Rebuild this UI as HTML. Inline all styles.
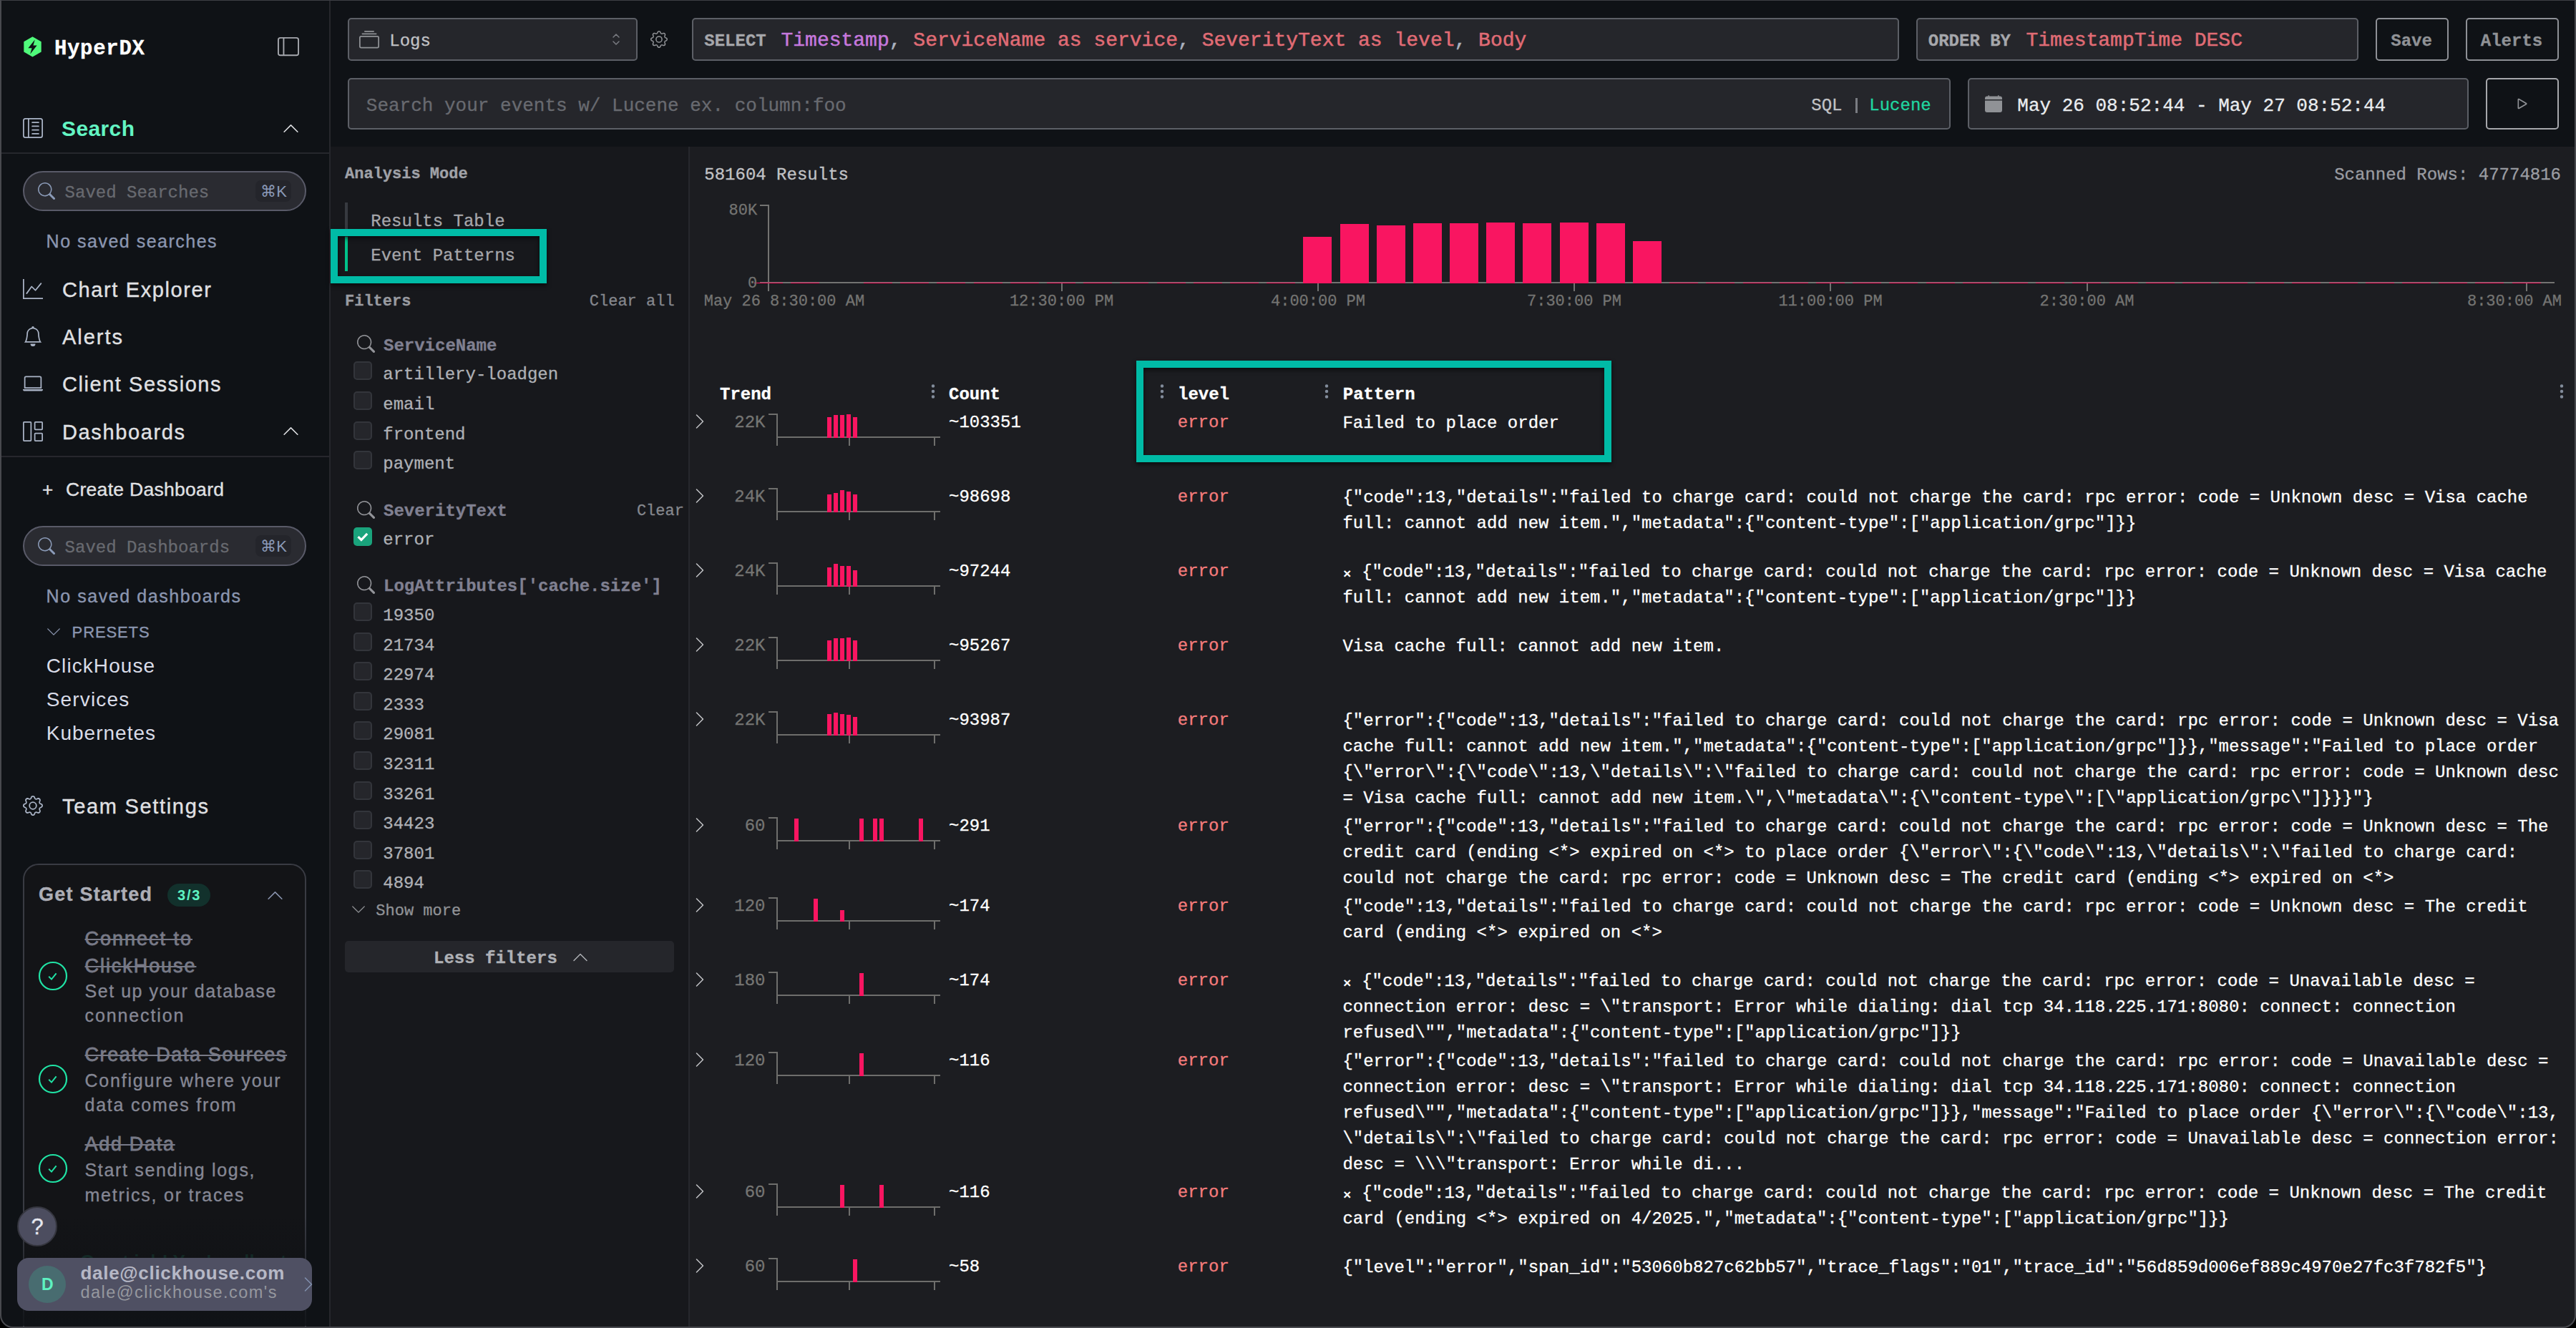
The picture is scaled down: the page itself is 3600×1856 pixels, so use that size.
<!DOCTYPE html>
<html lang="en">
<head>
<meta charset="utf-8">
<title>HyperDX - Search</title>
<style>
html,body{margin:0;padding:0}
body{width:3600px;height:1856px;overflow:hidden;position:relative;background:#1c1d21;font-family:"Liberation Sans",sans-serif;color:#c1c2c5}
.b,.t{position:absolute;box-sizing:border-box;margin:0;padding:0}
.t{white-space:pre}
.m{font-family:"Liberation Mono",monospace;-webkit-text-stroke:0.3px currentColor}
.s{font-family:"Liberation Sans",sans-serif}
.md{-webkit-text-stroke:0.35px currentColor}
.xm{display:inline-block;width:12.4px;font-size:19px;font-weight:bold;line-height:1;position:relative;top:2.6px;left:0.5px;-webkit-text-stroke:0}
.sq{-webkit-text-stroke:0.5px currentColor}
.sb{-webkit-text-stroke:0.8px currentColor}
svg{display:block;overflow:visible}
section,nav,header,main,aside,article{display:block;position:static;margin:0;padding:0}
ul,li,p,h1,h2,h3{margin:0;padding:0;list-style:none;font-weight:inherit;font-size:inherit}
</style>
</head>
<body>
<div class="b" style="left:0.00px;top:0.00px;width:3600.00px;height:205.00px;background:#0f1216;"></div>
<div class="b" style="left:462.00px;top:205.00px;width:500.00px;height:1651.00px;background:#17181c;"></div>
<div class="b" style="left:0.00px;top:0.00px;width:460.00px;height:1856.00px;background:#0f1216;"></div>
<div class="b" style="left:460.00px;top:0.00px;width:2.00px;height:1856.00px;background:#26272c;"></div>
<nav aria-label="Main">
<svg class="b" style="left:33.4px;top:50.6px" width="25" height="28.8" viewBox="0 0 26 30" aria-hidden="true"><polygon points="13,0.3 25.7,7.6 25.7,22.4 13,29.7 0.3,22.4 0.3,7.6" fill="#50fa7b"/><polygon points="16.4,4.6 6.6,17 12,17 9.6,25.4 19.4,13 14,13" fill="#0f1216"/></svg>
<div class="t m" style="top:54.38px;font-size:29px;line-height:29px;color:#ffffff;left:75.90px;font-weight:bold;letter-spacing:0.700px;">HyperDX</div>
<svg class="b" style="left:388.00px;top:50.00px;" width="30" height="30" viewBox="0 0 16 16" fill="#a6a8ae" aria-hidden="true"><path d="M0 3a2 2 0 0 1 2-2h12a2 2 0 0 1 2 2v10a2 2 0 0 1-2 2H2a2 2 0 0 1-2-2V3zm5-1v12h9a1 1 0 0 0 1-1V3a1 1 0 0 0-1-1H5zM4 2H2a1 1 0 0 0-1 1v10a1 1 0 0 0 1 1h2V2z"/></svg>
<svg class="b" style="left:32.00px;top:165.00px;" width="28" height="28" viewBox="0 0 16 16" fill="#aab4c6" aria-hidden="true"><path d="M12.5 3a.5.5 0 0 1 0 1h-5a.5.5 0 0 1 0-1h5zm0 3a.5.5 0 0 1 0 1h-5a.5.5 0 0 1 0-1h5zm.5 3.5a.5.5 0 0 0-.5-.5h-5a.5.5 0 0 0 0 1h5a.5.5 0 0 0 .5-.5zm-.5 2.5a.5.5 0 0 1 0 1h-5a.5.5 0 0 1 0-1h5z"/><path d="M16 2a2 2 0 0 0-2-2H2a2 2 0 0 0-2 2v12a2 2 0 0 0 2 2h12a2 2 0 0 0 2-2V2zM4 1v14H2a1 1 0 0 1-1-1V2a1 1 0 0 1 1-1h2zm1 0h9a1 1 0 0 1 1 1v12a1 1 0 0 1-1 1H5V1z"/></svg>
<div id="f1" class="t s" style="top:164.80px;font-size:30px;line-height:30px;color:#63f5c3;left:86.00px;font-weight:bold;letter-spacing:0.384px;">Search</div>
<svg class="b" style="left:393.50px;top:166.50px;" width="25" height="25" viewBox="0 0 16 16" fill="#e0e1e4" aria-hidden="true"><path fill-rule="evenodd" d="M7.646 4.646a.5.5 0 0 1 .708 0l6 6a.5.5 0 0 1-.708.708L8 5.707l-5.646 5.647a.5.5 0 0 1-.708-.708l6-6z"/></svg>
<div class="b" style="left:2.00px;top:213.00px;width:458.00px;height:2.00px;background:#26272c;"></div>
<div class="b" style="left:32.00px;top:239.00px;width:396.00px;height:56.00px;background:#2a2b31;border:2px solid #595a68;border-radius:28px;"></div>
<svg class="b" style="left:53.00px;top:255.00px;" width="24" height="24" viewBox="0 0 16 16" fill="#8b9bb8" aria-hidden="true"><path d="M11.742 10.344a6.5 6.5 0 1 0-1.397 1.398h-.001c.03.04.062.078.098.115l3.85 3.85a1 1 0 0 0 1.415-1.414l-3.85-3.85a1.007 1.007 0 0 0-.115-.1zM12 6.5a5.5 5.5 0 1 1-11 0 5.5 5.5 0 0 1 11 0z"/></svg>
<div class="t m" style="top:257.61px;font-size:24px;line-height:24px;color:#686a70;left:90.60px;">Saved Searches</div>
<div class="b" style="left:357.00px;top:252.00px;width:50.00px;height:30.00px;background:#24252b;border-radius:8px;"></div>
<div id="f2" class="t s" style="top:257.37px;font-size:22px;line-height:22px;color:#8b9ab8;left:364.00px;letter-spacing:0.312px;">⌘K</div>
<div id="f3" class="t s md" style="top:324.83px;font-size:25px;line-height:25px;color:#8b96b0;left:64.60px;letter-spacing:1.499px;">No saved searches</div>
<svg class="b" style="left:32.00px;top:390.00px;" width="28" height="28" viewBox="0 0 16 16" fill="#aab4c6" aria-hidden="true"><path fill-rule="evenodd" d="M0 0h1v15h15v1H0V0Zm14.817 3.113a.5.5 0 0 1 .07.704l-4.5 5.5a.5.5 0 0 1-.74.037L7.06 6.767l-3.656 5.027a.5.5 0 0 1-.808-.588l4-5.5a.5.5 0 0 1 .758-.06l2.609 2.61 4.15-5.073a.5.5 0 0 1 .704-.07Z"/></svg>
<div id="f4" class="t s md" style="top:391.35px;font-size:29px;line-height:29px;color:#e0e1e4;left:87.00px;letter-spacing:1.618px;">Chart Explorer</div>
<svg class="b" style="left:32.00px;top:456.00px;" width="28" height="28" viewBox="0 0 16 16" fill="#aab4c6" aria-hidden="true"><path d="M8 16a2 2 0 0 0 2-2H6a2 2 0 0 0 2 2zM8 1.918l-.797.161A4.002 4.002 0 0 0 4 6c0 .628-.134 2.197-.459 3.742-.16.767-.376 1.566-.663 2.258h10.244c-.287-.692-.502-1.49-.663-2.258C12.134 8.197 12 6.628 12 6a4.002 4.002 0 0 0-3.203-3.92L8 1.917zM14.22 12c.223.447.481.801.78 1H1c.299-.199.557-.553.78-1C2.68 10.2 3 6.88 3 6c0-2.42 1.72-4.44 4.005-4.901a1 1 0 1 1 1.99 0A5.002 5.002 0 0 1 13 6c0 .88.32 4.2 1.22 6z"/></svg>
<div id="f5" class="t s md" style="top:457.35px;font-size:29px;line-height:29px;color:#e0e1e4;left:87.00px;letter-spacing:1.972px;">Alerts</div>
<svg class="b" style="left:32.00px;top:522.00px;" width="28" height="28" viewBox="0 0 16 16" fill="#aab4c6" aria-hidden="true"><path d="M13.5 3a.5.5 0 0 1 .5.5V11H2V3.5a.5.5 0 0 1 .5-.5h11zm-11-1A1.5 1.5 0 0 0 1 3.5V12h14V3.5A1.5 1.5 0 0 0 13.5 2h-11zM0 12.5h16a1.5 1.5 0 0 1-1.5 1.5h-13A1.5 1.5 0 0 1 0 12.5z"/></svg>
<div id="f6" class="t s md" style="top:523.35px;font-size:29px;line-height:29px;color:#e0e1e4;left:87.00px;letter-spacing:1.545px;">Client Sessions</div>
<svg class="b" style="left:32.00px;top:589.00px;" width="28" height="28" viewBox="0 0 16 16" fill="#aab4c6" aria-hidden="true"><path d="M6 1H1v14h5V1zm9 0h-5v5h5V1zm0 9v5h-5v-5h5zM0 1a1 1 0 0 1 1-1h5a1 1 0 0 1 1 1v14a1 1 0 0 1-1 1H1a1 1 0 0 1-1-1V1zm9 0a1 1 0 0 1 1-1h5a1 1 0 0 1 1 1v5a1 1 0 0 1-1 1h-5a1 1 0 0 1-1-1V1zm1 8a1 1 0 0 0-1 1v5a1 1 0 0 0 1 1h5a1 1 0 0 0 1-1v-5a1 1 0 0 0-1-1h-5z"/></svg>
<div id="f7" class="t s md" style="top:590.35px;font-size:29px;line-height:29px;color:#e0e1e4;left:87.00px;letter-spacing:1.625px;">Dashboards</div>
<svg class="b" style="left:393.50px;top:590.00px;" width="25" height="25" viewBox="0 0 16 16" fill="#e0e1e4" aria-hidden="true"><path fill-rule="evenodd" d="M7.646 4.646a.5.5 0 0 1 .708 0l6 6a.5.5 0 0 1-.708.708L8 5.707l-5.646 5.647a.5.5 0 0 1-.708-.708l6-6z"/></svg>
<div class="b" style="left:2.00px;top:637.00px;width:458.00px;height:2.00px;background:#26272c;"></div>
<div class="t s md" style="top:671.49px;font-size:26px;line-height:26px;color:#e0e1e4;left:59.00px;">+</div>
<div id="f8" class="t s md" style="top:671.36px;font-size:26.5px;line-height:26.5px;color:#e0e1e4;left:92.00px;letter-spacing:0.297px;">Create Dashboard</div>
<div class="b" style="left:32.00px;top:735.00px;width:396.00px;height:56.00px;background:#2a2b31;border:2px solid #595a68;border-radius:28px;"></div>
<svg class="b" style="left:53.00px;top:751.00px;" width="24" height="24" viewBox="0 0 16 16" fill="#8b9bb8" aria-hidden="true"><path d="M11.742 10.344a6.5 6.5 0 1 0-1.397 1.398h-.001c.03.04.062.078.098.115l3.85 3.85a1 1 0 0 0 1.415-1.414l-3.85-3.85a1.007 1.007 0 0 0-.115-.1zM12 6.5a5.5 5.5 0 1 1-11 0 5.5 5.5 0 0 1 11 0z"/></svg>
<div class="t m" style="top:753.61px;font-size:24px;line-height:24px;color:#686a70;left:90.60px;">Saved Dashboards</div>
<div class="b" style="left:357.00px;top:748.00px;width:50.00px;height:30.00px;background:#24252b;border-radius:8px;"></div>
<div id="f9" class="t s" style="top:753.37px;font-size:22px;line-height:22px;color:#8b9ab8;left:364.00px;letter-spacing:0.312px;">⌘K</div>
<div id="f10" class="t s md" style="top:821.33px;font-size:25px;line-height:25px;color:#8b96b0;left:64.60px;letter-spacing:1.571px;">No saved dashboards</div>
<svg class="b" style="left:64.20px;top:872.40px;" width="22" height="22" viewBox="0 0 16 16" fill="#8b96b0" aria-hidden="true"><path fill-rule="evenodd" d="M1.646 4.646a.5.5 0 0 1 .708 0L8 10.293l5.646-5.647a.5.5 0 0 1 .708.708l-6 6a.5.5 0 0 1-.708 0l-6-6a.5.5 0 0 1 0-.708z"/></svg>
<div id="f11" class="t s md" style="top:873.37px;font-size:22px;line-height:22px;color:#8b96b0;left:100.60px;letter-spacing:0.883px;">PRESETS</div>
<div id="f12" class="t s" style="top:917.49px;font-size:28px;line-height:28px;color:#d9dce8;left:64.80px;letter-spacing:1.077px;">ClickHouse</div>
<div id="f13" class="t s" style="top:964.09px;font-size:28px;line-height:28px;color:#d9dce8;left:64.80px;letter-spacing:1.146px;">Services</div>
<div id="f14" class="t s" style="top:1011.09px;font-size:28px;line-height:28px;color:#d9dce8;left:64.80px;letter-spacing:0.998px;">Kubernetes</div>
<svg class="b" style="left:32.00px;top:1112.00px;" width="28" height="28" viewBox="0 0 16 16" fill="#aab4c6" aria-hidden="true"><path d="M8 4.754a3.246 3.246 0 1 0 0 6.492 3.246 3.246 0 0 0 0-6.492zM5.754 8a2.246 2.246 0 1 1 4.492 0 2.246 2.246 0 0 1-4.492 0z"/><path d="M9.796 1.343c-.527-1.79-3.065-1.79-3.592 0l-.094.319a.873.873 0 0 1-1.255.52l-.292-.16c-1.64-.892-3.433.902-2.54 2.541l.159.292a.873.873 0 0 1-.52 1.255l-.319.094c-1.79.527-1.79 3.065 0 3.592l.319.094a.873.873 0 0 1 .52 1.255l-.16.292c-.892 1.64.901 3.434 2.541 2.54l.292-.159a.873.873 0 0 1 1.255.52l.094.319c.527 1.79 3.065 1.79 3.592 0l.094-.319a.873.873 0 0 1 1.255-.52l.292.16c1.64.893 3.434-.902 2.54-2.541l-.159-.292a.873.873 0 0 1 .52-1.255l.319-.094c1.79-.527 1.79-3.065 0-3.592l-.319-.094a.873.873 0 0 1-.52-1.255l.16-.292c.893-1.64-.902-3.433-2.541-2.54l-.292.159a.873.873 0 0 1-1.255-.52l-.094-.319zm-2.633.283c.246-.835 1.428-.835 1.674 0l.094.319a1.873 1.873 0 0 0 2.693 1.115l.291-.16c.764-.415 1.6.42 1.184 1.185l-.159.292a1.873 1.873 0 0 0 1.116 2.692l.318.094c.835.246.835 1.428 0 1.674l-.319.094a1.873 1.873 0 0 0-1.115 2.693l.16.291c.415.764-.42 1.6-1.185 1.184l-.291-.159a1.873 1.873 0 0 0-2.693 1.116l-.094.318c-.246.835-1.428.835-1.674 0l-.094-.319a1.873 1.873 0 0 0-2.692-1.115l-.292.16c-.764.415-1.6-.42-1.184-1.185l.159-.291A1.873 1.873 0 0 0 1.945 8.93l-.319-.094c-.835-.246-.835-1.428 0-1.674l.319-.094A1.873 1.873 0 0 0 3.06 4.377l-.16-.292c-.415-.764.42-1.6 1.185-1.184l.292.159a1.873 1.873 0 0 0 2.692-1.115l.094-.319z"/></svg>
<div id="f15" class="t s md" style="top:1112.75px;font-size:29px;line-height:29px;color:#e0e1e4;left:87.00px;letter-spacing:1.686px;">Team Settings</div>
<div class="b" style="left:32.00px;top:1207.00px;width:396.00px;height:700.00px;background:#131417;border:2px solid #393b43;border-radius:22px;"></div>
<div id="f16" class="t s md" style="top:1237.44px;font-size:27px;line-height:27px;color:#adaeb6;left:54.00px;font-weight:bold;letter-spacing:1.245px;">Get Started</div>
<div class="b" style="left:234.00px;top:1235.00px;width:59.50px;height:32.00px;background:#12312c;border-radius:16px;"></div>
<div id="f17" class="t s" style="top:1241.07px;font-size:20px;line-height:20px;color:#5ef2c1;left:248.00px;font-weight:bold;letter-spacing:1.844px;">3/3</div>
<svg class="b" style="left:371.50px;top:1238.50px;" width="25" height="25" viewBox="0 0 16 16" fill="#8b96b0" aria-hidden="true"><path fill-rule="evenodd" d="M7.646 4.646a.5.5 0 0 1 .708 0l6 6a.5.5 0 0 1-.708.708L8 5.707l-5.646 5.647a.5.5 0 0 1-.708-.708l6-6z"/></svg>
<svg class="b" style="left:53px;top:1343px" width="42" height="42" viewBox="0 0 42 42" aria-hidden="true"><circle cx="21" cy="21" r="19" fill="none" stroke="#20e3a5" stroke-width="2.2"/><path d="M15.2 21.8l3.8 3.8l6.6-8.2" fill="none" stroke="#20e3a5" stroke-width="2"/></svg>
<div id="f18" class="t s sb" style="top:1299.14px;font-size:27px;line-height:27px;color:#787a87;left:118.50px;letter-spacing:1.990px;text-decoration:line-through;text-decoration-thickness:2px;">Connect to</div>
<div id="f19" class="t s sb" style="top:1336.74px;font-size:27px;line-height:27px;color:#787a87;left:118.50px;letter-spacing:1.939px;text-decoration:line-through;text-decoration-thickness:2px;">ClickHouse</div>
<div id="f20" class="t s md" style="top:1372.93px;font-size:25px;line-height:25px;color:#858794;left:118.50px;letter-spacing:1.544px;">Set up your database</div>
<div id="f21" class="t s md" style="top:1406.73px;font-size:25px;line-height:25px;color:#858794;left:118.50px;letter-spacing:1.896px;">connection</div>
<svg class="b" style="left:53px;top:1487px" width="42" height="42" viewBox="0 0 42 42" aria-hidden="true"><circle cx="21" cy="21" r="19" fill="none" stroke="#20e3a5" stroke-width="2.2"/><path d="M15.2 21.8l3.8 3.8l6.6-8.2" fill="none" stroke="#20e3a5" stroke-width="2"/></svg>
<div id="f22" class="t s sb" style="top:1460.64px;font-size:27px;line-height:27px;color:#787a87;left:118.50px;letter-spacing:1.604px;text-decoration:line-through;text-decoration-thickness:2px;">Create Data Sources</div>
<div id="f23" class="t s md" style="top:1497.73px;font-size:25px;line-height:25px;color:#858794;left:118.50px;letter-spacing:1.789px;">Configure where your</div>
<div id="f24" class="t s md" style="top:1532.43px;font-size:25px;line-height:25px;color:#858794;left:118.50px;letter-spacing:1.772px;">data comes from</div>
<svg class="b" style="left:53px;top:1612px" width="42" height="42" viewBox="0 0 42 42" aria-hidden="true"><circle cx="21" cy="21" r="19" fill="none" stroke="#20e3a5" stroke-width="2.2"/><path d="M15.2 21.8l3.8 3.8l6.6-8.2" fill="none" stroke="#20e3a5" stroke-width="2"/></svg>
<div id="f25" class="t s sb" style="top:1585.74px;font-size:27px;line-height:27px;color:#787a87;left:118.50px;letter-spacing:1.703px;text-decoration:line-through;text-decoration-thickness:2px;">Add Data</div>
<div id="f26" class="t s md" style="top:1623.23px;font-size:25px;line-height:25px;color:#858794;left:118.50px;letter-spacing:1.662px;">Start sending logs,</div>
<div id="f27" class="t s md" style="top:1657.73px;font-size:25px;line-height:25px;color:#858794;left:118.50px;letter-spacing:1.782px;">metrics, or traces</div>
<div class="t s" style="top:1749.99px;font-size:26px;line-height:26px;color:rgba(32,227,165,0.16);left:112.00px;font-weight:bold;">Great job! You're all set</div>
<div class="b" style="left:3.00px;top:1700.00px;width:457.00px;height:153.00px;background:linear-gradient(to bottom, rgba(15,18,22,0) 0%, rgba(15,18,22,0.55) 60%, rgba(15,18,22,0.9) 100%);"></div>
<div class="b" style="left:24.00px;top:1686.00px;width:56.00px;height:56.00px;background:#4c4d5f;border:2px solid #35363f;border-radius:28px;"></div>
<div class="t s md" style="top:1699.25px;font-size:31px;line-height:31px;color:#e6e7ee;left:43.50px;">?</div>
<div class="b" style="left:24.00px;top:1758.00px;width:412.00px;height:73.70px;background:#4f5063;border-radius:16px;"></div>
<div class="b" style="left:40.00px;top:1768.50px;width:52.00px;height:52.00px;background:#486c70;border-radius:26px;"></div>
<div class="t s" style="top:1783.53px;font-size:23px;line-height:23px;color:#5ef2c1;left:58.00px;font-weight:bold;">D</div>
<div id="f28" class="t s" style="top:1766.49px;font-size:26px;line-height:26px;color:#b6b8c6;left:112.50px;font-weight:bold;letter-spacing:0.696px;">dale@clickhouse.com</div>
<div id="f29" class="t s" style="top:1794.80px;font-size:23.5px;line-height:23.5px;color:#96989f;left:112.50px;letter-spacing:1.441px;">dale@clickhouse.com's</div>
<svg class="b" style="left:419.00px;top:1783.20px;" width="24" height="24" viewBox="0 0 16 16" fill="#8291af" aria-hidden="true"><path fill-rule="evenodd" d="M4.646 1.646a.5.5 0 0 1 .708 0l6 6a.5.5 0 0 1 0 .708l-6 6a.5.5 0 0 1-.708-.708L10.293 8 4.646 2.354a.5.5 0 0 1 0-.708z"/></svg>
</nav>
<header>
<div class="b" style="left:486.00px;top:25.00px;width:405.00px;height:60.00px;background:#25262b;border:2px solid #5c5f66;border-radius:5px;"></div>
<svg class="b" style="left:502.00px;top:42.00px;" width="28" height="28" viewBox="0 0 16 16" fill="#909296" aria-hidden="true"><path d="M2.5 3.5a.5.5 0 0 1 0-1h11a.5.5 0 0 1 0 1h-11zm2-2a.5.5 0 0 1 0-1h7a.5.5 0 0 1 0 1h-7zM0 13a1.5 1.5 0 0 0 1.5 1.5h13A1.5 1.5 0 0 0 16 13V6a1.5 1.5 0 0 0-1.5-1.5h-13A1.5 1.5 0 0 0 0 6v7zm1.5.5A.5.5 0 0 1 1 13V6a.5.5 0 0 1 .5-.5h13a.5.5 0 0 1 .5.5v7a.5.5 0 0 1-.5.5h-13z"/></svg>
<div class="t m" style="top:46.11px;font-size:24px;line-height:24px;color:#c1c2c5;left:544.30px;">Logs</div>
<svg class="b" style="left:849.00px;top:43.00px;" width="24" height="24" viewBox="0 0 24 24" fill="none" stroke="#7a7c82" stroke-width="1.5" stroke-linecap="round" stroke-linejoin="round" aria-hidden="true"><path d="M8 9l4-4l4 4"/><path d="M16 15l-4 4l-4-4"/></svg>
<svg class="b" style="left:908.70px;top:43.00px;" width="24" height="24" viewBox="0 0 16 16" fill="#909296" aria-hidden="true"><path d="M8 4.754a3.246 3.246 0 1 0 0 6.492 3.246 3.246 0 0 0 0-6.492zM5.754 8a2.246 2.246 0 1 1 4.492 0 2.246 2.246 0 0 1-4.492 0z"/><path d="M9.796 1.343c-.527-1.79-3.065-1.79-3.592 0l-.094.319a.873.873 0 0 1-1.255.52l-.292-.16c-1.64-.892-3.433.902-2.54 2.541l.159.292a.873.873 0 0 1-.52 1.255l-.319.094c-1.79.527-1.79 3.065 0 3.592l.319.094a.873.873 0 0 1 .52 1.255l-.16.292c-.892 1.64.901 3.434 2.541 2.54l.292-.159a.873.873 0 0 1 1.255.52l.094.319c.527 1.79 3.065 1.79 3.592 0l.094-.319a.873.873 0 0 1 1.255-.52l.292.16c1.64.893 3.434-.902 2.54-2.541l-.159-.292a.873.873 0 0 1 .52-1.255l.319-.094c1.79-.527 1.79-3.065 0-3.592l-.319-.094a.873.873 0 0 1-.52-1.255l.16-.292c.893-1.64-.902-3.433-2.541-2.54l-.292.159a.873.873 0 0 1-1.255-.52l-.094-.319zm-2.633.283c.246-.835 1.428-.835 1.674 0l.094.319a1.873 1.873 0 0 0 2.693 1.115l.291-.16c.764-.415 1.6.42 1.184 1.185l-.159.292a1.873 1.873 0 0 0 1.116 2.692l.318.094c.835.246.835 1.428 0 1.674l-.319.094a1.873 1.873 0 0 0-1.115 2.693l.16.291c.415.764-.42 1.6-1.185 1.184l-.291-.159a1.873 1.873 0 0 0-2.693 1.116l-.094.318c-.246.835-1.428.835-1.674 0l-.094-.319a1.873 1.873 0 0 0-2.692-1.115l-.292.16c-.764.415-1.6-.42-1.184-1.185l.159-.291A1.873 1.873 0 0 0 1.945 8.93l-.319-.094c-.835-.246-.835-1.428 0-1.674l.319-.094A1.873 1.873 0 0 0 3.06 4.377l-.16-.292c-.415-.764.42-1.6 1.185-1.184l.292.159a1.873 1.873 0 0 0 2.692-1.115l.094-.319z"/></svg>
<div class="b" style="left:967.00px;top:25.00px;width:1687.00px;height:60.00px;background:#25262b;border:2px solid #5c5f66;border-radius:5px;"></div>
<div class="t m" style="top:46.11px;font-size:24px;line-height:24px;color:#a6a7ab;left:984.30px;font-weight:bold;">SELECT</div>
<div class="t m sq" style="top:43.05px;font-size:28px;line-height:28px;color:#e06c75;left:1091.50px;"><span style="color:#c678dd">Timestamp</span><span style="color:#abb2bf">,</span> ServiceName as service<span style="color:#abb2bf">,</span> SeverityText as level<span style="color:#abb2bf">,</span> Body</div>
<div class="b" style="left:2678.00px;top:25.00px;width:618.00px;height:60.00px;background:#25262b;border:2px solid #5c5f66;border-radius:5px;"></div>
<div class="t m" style="top:46.11px;font-size:24px;line-height:24px;color:#a6a7ab;left:2694.80px;font-weight:bold;">ORDER BY</div>
<div class="t m sq" style="top:43.05px;font-size:28px;line-height:28px;color:#e06c75;left:2831.50px;">TimestampTime DESC</div>
<div class="b" style="left:3320.00px;top:25.00px;width:102.00px;height:60.00px;background:#0f1216;border:2px solid #8e9096;border-radius:5px;"></div>
<div class="t m" style="top:46.11px;font-size:24px;line-height:24px;color:#909296;left:3341.30px;font-weight:bold;">Save</div>
<div class="b" style="left:3446.00px;top:25.00px;width:130.00px;height:60.00px;background:#0f1216;border:2px solid #8e9096;border-radius:5px;"></div>
<div class="t m" style="top:46.11px;font-size:24px;line-height:24px;color:#909296;left:3466.80px;font-weight:bold;">Alerts</div>
<div class="b" style="left:486.00px;top:109.00px;width:2240.00px;height:72.00px;background:#25262b;border:2px solid #5c5f66;border-radius:5px;"></div>
<div class="t m" style="top:134.58px;font-size:26px;line-height:26px;color:#686a70;left:511.80px;">Search your events w/ Lucene ex. column:foo</div>
<div class="t m" style="top:135.61px;font-size:24px;line-height:24px;color:#c1c2c5;left:2531.30px;">SQL</div>
<div class="b" style="left:2593.00px;top:137.00px;width:2.50px;height:21.00px;background:#7a7c82;"></div>
<div class="t m" style="top:135.61px;font-size:24px;line-height:24px;color:#20d6a0;left:2612.30px;">Lucene</div>
<div class="b" style="left:2750.00px;top:109.00px;width:700.00px;height:72.00px;background:#25262b;border:2px solid #5c5f66;border-radius:5px;"></div>
<svg class="b" style="left:2774.00px;top:133.00px;" width="24" height="24" viewBox="0 0 16 16" fill="#909296" aria-hidden="true"><path d="M3.5 0a.5.5 0 0 1 .5.5V1h8V.5a.5.5 0 0 1 1 0V1h1a2 2 0 0 1 2 2v11a2 2 0 0 1-2 2H2a2 2 0 0 1-2-2V5h16V4H0V3a2 2 0 0 1 2-2h1V.5a.5.5 0 0 1 .5-.5z"/></svg>
<div class="t m" style="top:134.58px;font-size:26px;line-height:26px;color:#e9ecef;left:2819.30px;">May 26 08:52:44 - May 27 08:52:44</div>
<div class="b" style="left:3474.00px;top:109.00px;width:102.00px;height:72.00px;background:#0f1216;border:2px solid #a6a7ab;border-radius:5px;"></div>
<svg class="b" style="left:3512.00px;top:132.00px;" width="26" height="26" viewBox="0 0 16 16" fill="#909296" aria-hidden="true"><path d="M10.804 8 5 4.633v6.734L10.804 8zm.792-.696a.802.802 0 0 1 0 1.392l-6.363 3.692C4.713 12.69 4 12.345 4 11.692V4.308c0-.653.713-.998 1.233-.696l6.363 3.692z"/></svg>
</header>
<aside aria-label="Filters">
<div class="b" style="left:962.00px;top:205.00px;width:2.00px;height:1651.00px;background:#26272c;"></div>
<div class="t m" style="top:233.15px;font-size:22px;line-height:22px;color:#a0a2a8;left:482.00px;font-weight:bold;">Analysis Mode</div>
<div class="b" style="left:482.00px;top:283.00px;width:4.00px;height:48.00px;background:#373a40;"></div>
<div class="b" style="left:482.00px;top:331.00px;width:4.00px;height:48.00px;background:#00c28a;"></div>
<div class="t m" style="top:297.61px;font-size:24px;line-height:24px;color:#a6a7ab;left:518.30px;">Results Table</div>
<div class="t m" style="top:346.01px;font-size:24px;line-height:24px;color:#a6a7ab;left:518.30px;">Event Patterns</div>
<div class="b" style="left:462.00px;top:320.00px;width:302.00px;height:76.00px;border:10px solid #00bba6;filter:drop-shadow(0 3px 3px rgba(0,0,0,.6));"></div>
<div class="t m" style="top:411.15px;font-size:22px;line-height:22px;color:#999ba1;left:482.00px;font-weight:bold;">Filters</div>
<div class="t m" style="top:411.15px;font-size:22px;line-height:22px;color:#85878d;left:823.80px;">Clear all</div>
<svg class="b" style="left:498.50px;top:468.40px;" width="25" height="25" viewBox="0 0 16 16" fill="#939499" aria-hidden="true"><path d="M11.742 10.344a6.5 6.5 0 1 0-1.397 1.398h-.001c.03.04.062.078.098.115l3.85 3.85a1 1 0 0 0 1.415-1.414l-3.85-3.85a1.007 1.007 0 0 0-.115-.1zM12 6.5a5.5 5.5 0 1 1-11 0 5.5 5.5 0 0 1 11 0z"/></svg>
<div class="t m" style="top:471.71px;font-size:24px;line-height:24px;color:#808091;left:536.00px;font-weight:bold;">ServiceName</div>
<div class="b" style="left:494.00px;top:505.20px;width:26.00px;height:26.00px;background:#25262b;border:2px solid #33353b;border-radius:5px;"></div>
<div class="t m" style="top:512.41px;font-size:24px;line-height:24px;color:#aeb0b5;left:535.30px;">artillery-loadgen</div>
<div class="b" style="left:494.00px;top:547.20px;width:26.00px;height:26.00px;background:#25262b;border:2px solid #33353b;border-radius:5px;"></div>
<div class="t m" style="top:554.41px;font-size:24px;line-height:24px;color:#aeb0b5;left:535.30px;">email</div>
<div class="b" style="left:494.00px;top:588.70px;width:26.00px;height:26.00px;background:#25262b;border:2px solid #33353b;border-radius:5px;"></div>
<div class="t m" style="top:595.91px;font-size:24px;line-height:24px;color:#aeb0b5;left:535.30px;">frontend</div>
<div class="b" style="left:494.00px;top:630.20px;width:26.00px;height:26.00px;background:#25262b;border:2px solid #33353b;border-radius:5px;"></div>
<div class="t m" style="top:637.41px;font-size:24px;line-height:24px;color:#aeb0b5;left:535.30px;">payment</div>
<svg class="b" style="left:498.50px;top:699.70px;" width="25" height="25" viewBox="0 0 16 16" fill="#939499" aria-hidden="true"><path d="M11.742 10.344a6.5 6.5 0 1 0-1.397 1.398h-.001c.03.04.062.078.098.115l3.85 3.85a1 1 0 0 0 1.415-1.414l-3.85-3.85a1.007 1.007 0 0 0-.115-.1zM12 6.5a5.5 5.5 0 1 1-11 0 5.5 5.5 0 0 1 11 0z"/></svg>
<div class="t m" style="top:703.01px;font-size:24px;line-height:24px;color:#808091;left:536.00px;font-weight:bold;">SeverityText</div>
<div class="t m" style="top:703.95px;font-size:22px;line-height:22px;color:#85878d;left:889.90px;">Clear</div>
<div class="b" style="left:494.00px;top:736.80px;width:26.00px;height:26.00px;background:#1aa37c;border-radius:5px;"></div>
<svg class="b" style="left:494px;top:736.80px" width="26" height="26" viewBox="0 0 26 26" aria-hidden="true"><path d="M6.5 13.2l4.4 4.3l8.3-8.6" fill="none" stroke="#fff" stroke-width="3.2"/></svg>
<div class="t m" style="top:743.41px;font-size:24px;line-height:24px;color:#aeb0b5;left:535.30px;">error</div>
<svg class="b" style="left:498.50px;top:804.50px;" width="25" height="25" viewBox="0 0 16 16" fill="#939499" aria-hidden="true"><path d="M11.742 10.344a6.5 6.5 0 1 0-1.397 1.398h-.001c.03.04.062.078.098.115l3.85 3.85a1 1 0 0 0 1.415-1.414l-3.85-3.85a1.007 1.007 0 0 0-.115-.1zM12 6.5a5.5 5.5 0 1 1-11 0 5.5 5.5 0 0 1 11 0z"/></svg>
<div class="t m" style="top:807.81px;font-size:24px;line-height:24px;color:#808091;left:536.00px;font-weight:bold;">LogAttributes['cache.size']</div>
<div class="b" style="left:494.00px;top:842.00px;width:26.00px;height:26.00px;background:#25262b;border:2px solid #33353b;border-radius:5px;"></div>
<div class="t m" style="top:849.21px;font-size:24px;line-height:24px;color:#aeb0b5;left:535.30px;">19350</div>
<div class="b" style="left:494.00px;top:883.60px;width:26.00px;height:26.00px;background:#25262b;border:2px solid #33353b;border-radius:5px;"></div>
<div class="t m" style="top:890.81px;font-size:24px;line-height:24px;color:#aeb0b5;left:535.30px;">21734</div>
<div class="b" style="left:494.00px;top:924.80px;width:26.00px;height:26.00px;background:#25262b;border:2px solid #33353b;border-radius:5px;"></div>
<div class="t m" style="top:932.01px;font-size:24px;line-height:24px;color:#aeb0b5;left:535.30px;">22974</div>
<div class="b" style="left:494.00px;top:966.70px;width:26.00px;height:26.00px;background:#25262b;border:2px solid #33353b;border-radius:5px;"></div>
<div class="t m" style="top:973.91px;font-size:24px;line-height:24px;color:#aeb0b5;left:535.30px;">2333</div>
<div class="b" style="left:494.00px;top:1008.00px;width:26.00px;height:26.00px;background:#25262b;border:2px solid #33353b;border-radius:5px;"></div>
<div class="t m" style="top:1015.21px;font-size:24px;line-height:24px;color:#aeb0b5;left:535.30px;">29081</div>
<div class="b" style="left:494.00px;top:1049.80px;width:26.00px;height:26.00px;background:#25262b;border:2px solid #33353b;border-radius:5px;"></div>
<div class="t m" style="top:1057.01px;font-size:24px;line-height:24px;color:#aeb0b5;left:535.30px;">32311</div>
<div class="b" style="left:494.00px;top:1091.80px;width:26.00px;height:26.00px;background:#25262b;border:2px solid #33353b;border-radius:5px;"></div>
<div class="t m" style="top:1099.01px;font-size:24px;line-height:24px;color:#aeb0b5;left:535.30px;">33261</div>
<div class="b" style="left:494.00px;top:1133.10px;width:26.00px;height:26.00px;background:#25262b;border:2px solid #33353b;border-radius:5px;"></div>
<div class="t m" style="top:1140.31px;font-size:24px;line-height:24px;color:#aeb0b5;left:535.30px;">34423</div>
<div class="b" style="left:494.00px;top:1174.70px;width:26.00px;height:26.00px;background:#25262b;border:2px solid #33353b;border-radius:5px;"></div>
<div class="t m" style="top:1181.91px;font-size:24px;line-height:24px;color:#aeb0b5;left:535.30px;">37801</div>
<div class="b" style="left:494.00px;top:1215.90px;width:26.00px;height:26.00px;background:#25262b;border:2px solid #33353b;border-radius:5px;"></div>
<div class="t m" style="top:1223.11px;font-size:24px;line-height:24px;color:#aeb0b5;left:535.30px;">4894</div>
<svg class="b" style="left:490.00px;top:1260.00px;" width="22" height="22" viewBox="0 0 16 16" fill="#909296" aria-hidden="true"><path fill-rule="evenodd" d="M1.646 4.646a.5.5 0 0 1 .708 0L8 10.293l5.646-5.647a.5.5 0 0 1 .708.708l-6 6a.5.5 0 0 1-.708 0l-6-6a.5.5 0 0 1 0-.708z"/></svg>
<div class="t m" style="top:1263.15px;font-size:22px;line-height:22px;color:#909296;left:525.30px;">Show more</div>
<div class="b" style="left:482.00px;top:1315.00px;width:460.00px;height:44.00px;background:#25262b;border-radius:5px;"></div>
<div class="t m" style="top:1327.61px;font-size:24px;line-height:24px;color:#afb1b6;left:606.00px;font-weight:bold;">Less filters</div>
<svg class="b" style="left:798.50px;top:1325.50px;" width="24" height="24" viewBox="0 0 16 16" fill="#afb1b6" aria-hidden="true"><path fill-rule="evenodd" d="M7.646 4.646a.5.5 0 0 1 .708 0l6 6a.5.5 0 0 1-.708.708L8 5.707l-5.646 5.647a.5.5 0 0 1-.708-.708l6-6z"/></svg>
</aside>
<section aria-label="Histogram">
<div class="t m" style="top:233.11px;font-size:24px;line-height:24px;color:#c1c2c5;left:984.30px;">581604 Results</div>
<div class="t m" style="top:233.11px;font-size:24px;line-height:24px;color:#9a9ca2;right:21.00px;">Scanned Rows: 47774816</div>
<svg class="b" style="left:0;top:0" width="3600" height="460" viewBox="0 0 3600 460" aria-hidden="true" shape-rendering="crispEdges"><path d="M1062 287.4H1074V406.7" fill="none" stroke="#737371" stroke-width="2"/><path d="M1062 395H3570" fill="none" stroke="#737371" stroke-width="2"/><path d="M1483.5 395V406.7" fill="none" stroke="#737371" stroke-width="2"/><path d="M1842 395V406.7" fill="none" stroke="#737371" stroke-width="2"/><path d="M2200 395V406.7" fill="none" stroke="#737371" stroke-width="2"/><path d="M2558 395V406.7" fill="none" stroke="#737371" stroke-width="2"/><path d="M2916.5 395V406.7" fill="none" stroke="#737371" stroke-width="2"/><path d="M3531 395V406.7" fill="none" stroke="#737371" stroke-width="2"/><rect x="1054.0" y="394.9" width="40" height="1.3" fill="#f91561"/><rect x="1105.0" y="394.9" width="40" height="1.3" fill="#f91561"/><rect x="1207.0" y="394.9" width="40" height="1.3" fill="#f91561"/><rect x="1258.0" y="394.9" width="40" height="1.3" fill="#f91561"/><rect x="1309.0" y="394.9" width="40" height="1.3" fill="#f91561"/><rect x="1361.0" y="394.9" width="40" height="1.3" fill="#f91561"/><rect x="1412.0" y="394.9" width="40" height="1.3" fill="#f91561"/><rect x="1463.0" y="394.9" width="40" height="1.3" fill="#f91561"/><rect x="1514.0" y="394.9" width="40" height="1.3" fill="#f91561"/><rect x="1565.0" y="394.9" width="40" height="1.3" fill="#f91561"/><rect x="1617.0" y="394.9" width="40" height="1.3" fill="#f91561"/><rect x="1668.0" y="394.9" width="40" height="1.3" fill="#f91561"/><rect x="1719.0" y="394.9" width="40" height="1.3" fill="#f91561"/><rect x="1770.0" y="394.9" width="40" height="1.3" fill="#f91561"/><rect x="1821.0" y="331" width="40" height="65.0" fill="#f91561"/><rect x="1873.0" y="313" width="40" height="83.0" fill="#f91561"/><rect x="1924.0" y="315" width="40" height="81.0" fill="#f91561"/><rect x="1975.0" y="312" width="40" height="84.0" fill="#f91561"/><rect x="2026.0" y="312" width="40" height="84.0" fill="#f91561"/><rect x="2077.0" y="310.5" width="40" height="85.5" fill="#f91561"/><rect x="2128.0" y="312" width="40" height="84.0" fill="#f91561"/><rect x="2180.0" y="310.5" width="40" height="85.5" fill="#f91561"/><rect x="2231.0" y="312" width="40" height="84.0" fill="#f91561"/><rect x="2282.0" y="337" width="40" height="59.0" fill="#f91561"/><rect x="2333.0" y="394.9" width="40" height="1.3" fill="#f91561"/><rect x="2384.0" y="394.9" width="40" height="1.3" fill="#f91561"/><rect x="2436.0" y="394.9" width="40" height="1.3" fill="#f91561"/><rect x="2487.0" y="394.9" width="40" height="1.3" fill="#f91561"/><rect x="2538.0" y="394.9" width="40" height="1.3" fill="#f91561"/><rect x="2589.0" y="394.9" width="40" height="1.3" fill="#f91561"/><rect x="2640.0" y="394.9" width="40" height="1.3" fill="#f91561"/><rect x="2692.0" y="394.9" width="40" height="1.3" fill="#f91561"/><rect x="2743.0" y="394.9" width="40" height="1.3" fill="#f91561"/><rect x="2794.0" y="394.9" width="40" height="1.3" fill="#f91561"/><rect x="2845.0" y="394.9" width="40" height="1.3" fill="#f91561"/><rect x="2896.0" y="394.9" width="40" height="1.3" fill="#f91561"/><rect x="2948.0" y="394.9" width="40" height="1.3" fill="#f91561"/><rect x="2999.0" y="394.9" width="40" height="1.3" fill="#f91561"/><rect x="3050.0" y="394.9" width="40" height="1.3" fill="#f91561"/><rect x="3101.0" y="394.9" width="40" height="1.3" fill="#f91561"/><rect x="3152.0" y="394.9" width="40" height="1.3" fill="#f91561"/><rect x="3203.0" y="394.9" width="40" height="1.3" fill="#f91561"/><rect x="3255.0" y="394.9" width="40" height="1.3" fill="#f91561"/><rect x="3306.0" y="394.9" width="40" height="1.3" fill="#f91561"/><rect x="3357.0" y="394.9" width="40" height="1.3" fill="#f91561"/><rect x="3408.0" y="394.9" width="40" height="1.3" fill="#f91561"/><rect x="3459.0" y="394.9" width="40" height="1.3" fill="#f91561"/><rect x="3511.0" y="394.9" width="40" height="1.3" fill="#f91561"/></svg>
<div class="t m" style="top:284.25px;font-size:22px;line-height:22px;color:#747472;right:2541.80px;">80K</div>
<div class="t m" style="top:386.05px;font-size:22px;line-height:22px;color:#747472;right:2541.80px;">0</div>
<div class="t m" style="top:410.85px;font-size:22px;line-height:22px;color:#747472;left:983.70px;">May 26 8:30:00 AM</div>
<div class="t m" style="top:410.85px;font-size:22px;line-height:22px;color:#747472;left:1410.90px;">12:30:00 PM</div>
<div class="t m" style="top:410.85px;font-size:22px;line-height:22px;color:#747472;left:1776.00px;">4:00:00 PM</div>
<div class="t m" style="top:410.85px;font-size:22px;line-height:22px;color:#747472;left:2134.00px;">7:30:00 PM</div>
<div class="t m" style="top:410.85px;font-size:22px;line-height:22px;color:#747472;left:2485.40px;">11:00:00 PM</div>
<div class="t m" style="top:410.85px;font-size:22px;line-height:22px;color:#747472;left:2850.50px;">2:30:00 AM</div>
<div class="t m" style="top:410.85px;font-size:22px;line-height:22px;color:#747472;right:20.00px;">8:30:00 AM</div>
</section>
<main>
<div class="t m" style="top:539.61px;font-size:24px;line-height:24px;color:#ffffff;left:1006.00px;font-weight:bold;">Trend</div>
<div class="t m" style="top:539.61px;font-size:24px;line-height:24px;color:#ffffff;left:1326.00px;font-weight:bold;">Count</div>
<div class="t m" style="top:539.61px;font-size:24px;line-height:24px;color:#ffffff;left:1646.00px;font-weight:bold;">level</div>
<div class="t m" style="top:539.61px;font-size:24px;line-height:24px;color:#ffffff;left:1876.80px;font-weight:bold;">Pattern</div>
<svg class="b" style="left:1291.90px;top:535.20px;" width="24" height="24" viewBox="0 0 16 16" fill="#828c9b" aria-hidden="true"><path d="M9.5 13a1.5 1.5 0 1 1-3 0 1.5 1.5 0 0 1 3 0zm0-5a1.5 1.5 0 1 1-3 0 1.5 1.5 0 0 1 3 0zm0-5a1.5 1.5 0 1 1-3 0 1.5 1.5 0 0 1 3 0z"/></svg>
<svg class="b" style="left:1611.60px;top:535.20px;" width="24" height="24" viewBox="0 0 16 16" fill="#828c9b" aria-hidden="true"><path d="M9.5 13a1.5 1.5 0 1 1-3 0 1.5 1.5 0 0 1 3 0zm0-5a1.5 1.5 0 1 1-3 0 1.5 1.5 0 0 1 3 0zm0-5a1.5 1.5 0 1 1-3 0 1.5 1.5 0 0 1 3 0z"/></svg>
<svg class="b" style="left:1841.50px;top:535.20px;" width="24" height="24" viewBox="0 0 16 16" fill="#828c9b" aria-hidden="true"><path d="M9.5 13a1.5 1.5 0 1 1-3 0 1.5 1.5 0 0 1 3 0zm0-5a1.5 1.5 0 1 1-3 0 1.5 1.5 0 0 1 3 0zm0-5a1.5 1.5 0 1 1-3 0 1.5 1.5 0 0 1 3 0z"/></svg>
<svg class="b" style="left:3567.70px;top:535.20px;" width="24" height="24" viewBox="0 0 16 16" fill="#828c9b" aria-hidden="true"><path d="M9.5 13a1.5 1.5 0 1 1-3 0 1.5 1.5 0 0 1 3 0zm0-5a1.5 1.5 0 1 1-3 0 1.5 1.5 0 0 1 3 0zm0-5a1.5 1.5 0 1 1-3 0 1.5 1.5 0 0 1 3 0z"/></svg>
<div class="b" style="left:1588.30px;top:504.00px;width:663.50px;height:141.70px;border:10px solid #00bba6;filter:drop-shadow(0 3px 3px rgba(0,0,0,.6));"></div>
<article>
<svg class="b" style="left:966.00px;top:577.00px;" width="24" height="24" viewBox="0 0 16 16" fill="#c1c2c5" aria-hidden="true"><path fill-rule="evenodd" d="M4.646 1.646a.5.5 0 0 1 .708 0l6 6a.5.5 0 0 1 0 .708l-6 6a.5.5 0 0 1-.708-.708L10.293 8 4.646 2.354a.5.5 0 0 1 0-.708z"/></svg>
<div class="t m" style="top:578.81px;font-size:24px;line-height:24px;color:#757573;right:2530.50px;">22K</div>
<svg class="b" style="left:1070px;top:574.00px" width="250" height="54" viewBox="1070 574.00 250 54" aria-hidden="true" shape-rendering="crispEdges"><path d="M1074 579.0H1086V623.0M1086 611.0H1314M1187 611.0V623.0M1306 611.0V623.0" fill="none" stroke="#6e6e6c" stroke-width="2"/><rect x="1155.7" y="583.0" width="6.3" height="29" fill="#f91561"/><rect x="1164.8" y="580.0" width="6.3" height="32" fill="#f91561"/><rect x="1173.9" y="580.0" width="6.3" height="32" fill="#f91561"/><rect x="1183" y="579.0" width="6.3" height="33" fill="#f91561"/><rect x="1192.1" y="583.0" width="6.3" height="29" fill="#f91561"/></svg>
<div class="t m" style="top:578.81px;font-size:24px;line-height:24px;color:#ffffff;left:1326.00px;">~103351</div>
<div class="t m" style="top:578.81px;font-size:24px;line-height:24px;color:#f47c7c;left:1645.80px;">error</div>
<p class="t m" style="left:1876.4px;top:573.71px;font-size:24px;line-height:36px;color:#fff">Failed to place order</p>
</article>
<article>
<svg class="b" style="left:966.00px;top:681.00px;" width="24" height="24" viewBox="0 0 16 16" fill="#c1c2c5" aria-hidden="true"><path fill-rule="evenodd" d="M4.646 1.646a.5.5 0 0 1 .708 0l6 6a.5.5 0 0 1 0 .708l-6 6a.5.5 0 0 1-.708-.708L10.293 8 4.646 2.354a.5.5 0 0 1 0-.708z"/></svg>
<div class="t m" style="top:682.81px;font-size:24px;line-height:24px;color:#757573;right:2530.50px;">24K</div>
<svg class="b" style="left:1070px;top:678.00px" width="250" height="54" viewBox="1070 678.00 250 54" aria-hidden="true" shape-rendering="crispEdges"><path d="M1074 683.0H1086V727.0M1086 715.0H1314M1187 715.0V727.0M1306 715.0V727.0" fill="none" stroke="#6e6e6c" stroke-width="2"/><rect x="1155.7" y="691.0" width="6.3" height="25" fill="#f91561"/><rect x="1164.8" y="689.0" width="6.3" height="27" fill="#f91561"/><rect x="1173.9" y="685.0" width="6.3" height="31" fill="#f91561"/><rect x="1183" y="687.0" width="6.3" height="29" fill="#f91561"/><rect x="1192.1" y="691.0" width="6.3" height="25" fill="#f91561"/></svg>
<div class="t m" style="top:682.81px;font-size:24px;line-height:24px;color:#ffffff;left:1326.00px;">~98698</div>
<div class="t m" style="top:682.81px;font-size:24px;line-height:24px;color:#f47c7c;left:1645.80px;">error</div>
<p class="t m" style="left:1876.4px;top:677.71px;font-size:24px;line-height:36px;color:#fff">{"code":13,"details":"failed to charge card: could not charge the card: rpc error: code = Unknown desc = Visa cache<br>full: cannot add new item.","metadata":{"content-type":["application/grpc"]}}</p>
</article>
<article>
<svg class="b" style="left:966.00px;top:785.00px;" width="24" height="24" viewBox="0 0 16 16" fill="#c1c2c5" aria-hidden="true"><path fill-rule="evenodd" d="M4.646 1.646a.5.5 0 0 1 .708 0l6 6a.5.5 0 0 1 0 .708l-6 6a.5.5 0 0 1-.708-.708L10.293 8 4.646 2.354a.5.5 0 0 1 0-.708z"/></svg>
<div class="t m" style="top:786.81px;font-size:24px;line-height:24px;color:#757573;right:2530.50px;">24K</div>
<svg class="b" style="left:1070px;top:782.00px" width="250" height="54" viewBox="1070 782.00 250 54" aria-hidden="true" shape-rendering="crispEdges"><path d="M1074 787.0H1086V831.0M1086 819.0H1314M1187 819.0V831.0M1306 819.0V831.0" fill="none" stroke="#6e6e6c" stroke-width="2"/><rect x="1155.7" y="793.0" width="6.3" height="27" fill="#f91561"/><rect x="1164.8" y="788.0" width="6.3" height="32" fill="#f91561"/><rect x="1173.9" y="791.0" width="6.3" height="29" fill="#f91561"/><rect x="1183" y="791.0" width="6.3" height="29" fill="#f91561"/><rect x="1192.1" y="797.0" width="6.3" height="23" fill="#f91561"/></svg>
<div class="t m" style="top:786.81px;font-size:24px;line-height:24px;color:#ffffff;left:1326.00px;">~97244</div>
<div class="t m" style="top:786.81px;font-size:24px;line-height:24px;color:#f47c7c;left:1645.80px;">error</div>
<p class="t m" style="left:1876.4px;top:781.71px;font-size:24px;line-height:36px;color:#fff"><span class="xm">×</span> {"code":13,"details":"failed to charge card: could not charge the card: rpc error: code = Unknown desc = Visa cache<br>full: cannot add new item.","metadata":{"content-type":["application/grpc"]}}</p>
</article>
<article>
<svg class="b" style="left:966.00px;top:889.00px;" width="24" height="24" viewBox="0 0 16 16" fill="#c1c2c5" aria-hidden="true"><path fill-rule="evenodd" d="M4.646 1.646a.5.5 0 0 1 .708 0l6 6a.5.5 0 0 1 0 .708l-6 6a.5.5 0 0 1-.708-.708L10.293 8 4.646 2.354a.5.5 0 0 1 0-.708z"/></svg>
<div class="t m" style="top:890.81px;font-size:24px;line-height:24px;color:#757573;right:2530.50px;">22K</div>
<svg class="b" style="left:1070px;top:886.00px" width="250" height="54" viewBox="1070 886.00 250 54" aria-hidden="true" shape-rendering="crispEdges"><path d="M1074 891.0H1086V935.0M1086 923.0H1314M1187 923.0V935.0M1306 923.0V935.0" fill="none" stroke="#6e6e6c" stroke-width="2"/><rect x="1155.7" y="895.0" width="6.3" height="29" fill="#f91561"/><rect x="1164.8" y="892.0" width="6.3" height="32" fill="#f91561"/><rect x="1173.9" y="892.0" width="6.3" height="32" fill="#f91561"/><rect x="1183" y="891.0" width="6.3" height="33" fill="#f91561"/><rect x="1192.1" y="895.0" width="6.3" height="29" fill="#f91561"/></svg>
<div class="t m" style="top:890.81px;font-size:24px;line-height:24px;color:#ffffff;left:1326.00px;">~95267</div>
<div class="t m" style="top:890.81px;font-size:24px;line-height:24px;color:#f47c7c;left:1645.80px;">error</div>
<p class="t m" style="left:1876.4px;top:885.71px;font-size:24px;line-height:36px;color:#fff">Visa cache full: cannot add new item.</p>
</article>
<article>
<svg class="b" style="left:966.00px;top:993.00px;" width="24" height="24" viewBox="0 0 16 16" fill="#c1c2c5" aria-hidden="true"><path fill-rule="evenodd" d="M4.646 1.646a.5.5 0 0 1 .708 0l6 6a.5.5 0 0 1 0 .708l-6 6a.5.5 0 0 1-.708-.708L10.293 8 4.646 2.354a.5.5 0 0 1 0-.708z"/></svg>
<div class="t m" style="top:994.81px;font-size:24px;line-height:24px;color:#757573;right:2530.50px;">22K</div>
<svg class="b" style="left:1070px;top:990.00px" width="250" height="54" viewBox="1070 990.00 250 54" aria-hidden="true" shape-rendering="crispEdges"><path d="M1074 995.0H1086V1039.0M1086 1027.0H1314M1187 1027.0V1039.0M1306 1027.0V1039.0" fill="none" stroke="#6e6e6c" stroke-width="2"/><rect x="1155.7" y="998.0" width="6.3" height="30" fill="#f91561"/><rect x="1164.8" y="996.0" width="6.3" height="32" fill="#f91561"/><rect x="1173.9" y="998.0" width="6.3" height="30" fill="#f91561"/><rect x="1183" y="999.0" width="6.3" height="29" fill="#f91561"/><rect x="1192.1" y="1002.0" width="6.3" height="26" fill="#f91561"/></svg>
<div class="t m" style="top:994.81px;font-size:24px;line-height:24px;color:#ffffff;left:1326.00px;">~93987</div>
<div class="t m" style="top:994.81px;font-size:24px;line-height:24px;color:#f47c7c;left:1645.80px;">error</div>
<p class="t m" style="left:1876.4px;top:989.71px;font-size:24px;line-height:36px;color:#fff">{"error":{"code":13,"details":"failed to charge card: could not charge the card: rpc error: code = Unknown desc = Visa<br>cache full: cannot add new item.","metadata":{"content-type":["application/grpc"]}},"message":"Failed to place order<br>{\"error\":{\"code\":13,\"details\":\"failed to charge card: could not charge the card: rpc error: code = Unknown desc<br>= Visa cache full: cannot add new item.\",\"metadata\":{\"content-type\":[\"application/grpc\"]}}}"}</p>
</article>
<article>
<svg class="b" style="left:966.00px;top:1141.00px;" width="24" height="24" viewBox="0 0 16 16" fill="#c1c2c5" aria-hidden="true"><path fill-rule="evenodd" d="M4.646 1.646a.5.5 0 0 1 .708 0l6 6a.5.5 0 0 1 0 .708l-6 6a.5.5 0 0 1-.708-.708L10.293 8 4.646 2.354a.5.5 0 0 1 0-.708z"/></svg>
<div class="t m" style="top:1142.81px;font-size:24px;line-height:24px;color:#757573;right:2530.50px;">60</div>
<svg class="b" style="left:1070px;top:1138.00px" width="250" height="54" viewBox="1070 1138.00 250 54" aria-hidden="true" shape-rendering="crispEdges"><path d="M1074 1143.0H1086V1187.0M1086 1175.0H1314M1187 1175.0V1187.0M1306 1175.0V1187.0" fill="none" stroke="#6e6e6c" stroke-width="2"/><rect x="1109.6" y="1144.0" width="6.3" height="32" fill="#f91561"/><rect x="1200.8" y="1144.0" width="6.3" height="32" fill="#f91561"/><rect x="1220" y="1144.0" width="6.3" height="32" fill="#f91561"/><rect x="1229" y="1144.0" width="6.3" height="32" fill="#f91561"/><rect x="1284" y="1144.0" width="6.3" height="32" fill="#f91561"/></svg>
<div class="t m" style="top:1142.81px;font-size:24px;line-height:24px;color:#ffffff;left:1326.00px;">~291</div>
<div class="t m" style="top:1142.81px;font-size:24px;line-height:24px;color:#f47c7c;left:1645.80px;">error</div>
<p class="t m" style="left:1876.4px;top:1137.71px;font-size:24px;line-height:36px;color:#fff">{"error":{"code":13,"details":"failed to charge card: could not charge the card: rpc error: code = Unknown desc = The<br>credit card (ending &lt;*&gt; expired on &lt;*&gt; to place order {\"error\":{\"code\":13,\"details\":\"failed to charge card:<br>could not charge the card: rpc error: code = Unknown desc = The credit card (ending &lt;*&gt; expired on &lt;*&gt;</p>
</article>
<article>
<svg class="b" style="left:966.00px;top:1253.00px;" width="24" height="24" viewBox="0 0 16 16" fill="#c1c2c5" aria-hidden="true"><path fill-rule="evenodd" d="M4.646 1.646a.5.5 0 0 1 .708 0l6 6a.5.5 0 0 1 0 .708l-6 6a.5.5 0 0 1-.708-.708L10.293 8 4.646 2.354a.5.5 0 0 1 0-.708z"/></svg>
<div class="t m" style="top:1254.81px;font-size:24px;line-height:24px;color:#757573;right:2530.50px;">120</div>
<svg class="b" style="left:1070px;top:1250.00px" width="250" height="54" viewBox="1070 1250.00 250 54" aria-hidden="true" shape-rendering="crispEdges"><path d="M1074 1255.0H1086V1299.0M1086 1287.0H1314M1187 1287.0V1299.0M1306 1287.0V1299.0" fill="none" stroke="#6e6e6c" stroke-width="2"/><rect x="1137" y="1256.0" width="6.3" height="32" fill="#f91561"/><rect x="1174" y="1272.0" width="6.3" height="16" fill="#f91561"/></svg>
<div class="t m" style="top:1254.81px;font-size:24px;line-height:24px;color:#ffffff;left:1326.00px;">~174</div>
<div class="t m" style="top:1254.81px;font-size:24px;line-height:24px;color:#f47c7c;left:1645.80px;">error</div>
<p class="t m" style="left:1876.4px;top:1249.71px;font-size:24px;line-height:36px;color:#fff">{"code":13,"details":"failed to charge card: could not charge the card: rpc error: code = Unknown desc = The credit<br>card (ending &lt;*&gt; expired on &lt;*&gt;</p>
</article>
<article>
<svg class="b" style="left:966.00px;top:1357.00px;" width="24" height="24" viewBox="0 0 16 16" fill="#c1c2c5" aria-hidden="true"><path fill-rule="evenodd" d="M4.646 1.646a.5.5 0 0 1 .708 0l6 6a.5.5 0 0 1 0 .708l-6 6a.5.5 0 0 1-.708-.708L10.293 8 4.646 2.354a.5.5 0 0 1 0-.708z"/></svg>
<div class="t m" style="top:1358.81px;font-size:24px;line-height:24px;color:#757573;right:2530.50px;">180</div>
<svg class="b" style="left:1070px;top:1354.00px" width="250" height="54" viewBox="1070 1354.00 250 54" aria-hidden="true" shape-rendering="crispEdges"><path d="M1074 1359.0H1086V1403.0M1086 1391.0H1314M1187 1391.0V1403.0M1306 1391.0V1403.0" fill="none" stroke="#6e6e6c" stroke-width="2"/><rect x="1200.8" y="1360.0" width="6.3" height="32" fill="#f91561"/></svg>
<div class="t m" style="top:1358.81px;font-size:24px;line-height:24px;color:#ffffff;left:1326.00px;">~174</div>
<div class="t m" style="top:1358.81px;font-size:24px;line-height:24px;color:#f47c7c;left:1645.80px;">error</div>
<p class="t m" style="left:1876.4px;top:1353.71px;font-size:24px;line-height:36px;color:#fff"><span class="xm">×</span> {"code":13,"details":"failed to charge card: could not charge the card: rpc error: code = Unavailable desc =<br>connection error: desc = \"transport: Error while dialing: dial tcp 34.118.225.171:8080: connect: connection<br>refused\"","metadata":{"content-type":["application/grpc"]}}</p>
</article>
<article>
<svg class="b" style="left:966.00px;top:1469.00px;" width="24" height="24" viewBox="0 0 16 16" fill="#c1c2c5" aria-hidden="true"><path fill-rule="evenodd" d="M4.646 1.646a.5.5 0 0 1 .708 0l6 6a.5.5 0 0 1 0 .708l-6 6a.5.5 0 0 1-.708-.708L10.293 8 4.646 2.354a.5.5 0 0 1 0-.708z"/></svg>
<div class="t m" style="top:1470.81px;font-size:24px;line-height:24px;color:#757573;right:2530.50px;">120</div>
<svg class="b" style="left:1070px;top:1466.00px" width="250" height="54" viewBox="1070 1466.00 250 54" aria-hidden="true" shape-rendering="crispEdges"><path d="M1074 1471.0H1086V1515.0M1086 1503.0H1314M1187 1503.0V1515.0M1306 1503.0V1515.0" fill="none" stroke="#6e6e6c" stroke-width="2"/><rect x="1200.8" y="1472.0" width="6.3" height="32" fill="#f91561"/></svg>
<div class="t m" style="top:1470.81px;font-size:24px;line-height:24px;color:#ffffff;left:1326.00px;">~116</div>
<div class="t m" style="top:1470.81px;font-size:24px;line-height:24px;color:#f47c7c;left:1645.80px;">error</div>
<p class="t m" style="left:1876.4px;top:1465.71px;font-size:24px;line-height:36px;color:#fff">{"error":{"code":13,"details":"failed to charge card: could not charge the card: rpc error: code = Unavailable desc =<br>connection error: desc = \"transport: Error while dialing: dial tcp 34.118.225.171:8080: connect: connection<br>refused\"","metadata":{"content-type":["application/grpc"]}},"message":"Failed to place order {\"error\":{\"code\":13,<br>\"details\":\"failed to charge card: could not charge the card: rpc error: code = Unavailable desc = connection error:<br>desc = \\\"transport: Error while di...</p>
</article>
<article>
<svg class="b" style="left:966.00px;top:1653.00px;" width="24" height="24" viewBox="0 0 16 16" fill="#c1c2c5" aria-hidden="true"><path fill-rule="evenodd" d="M4.646 1.646a.5.5 0 0 1 .708 0l6 6a.5.5 0 0 1 0 .708l-6 6a.5.5 0 0 1-.708-.708L10.293 8 4.646 2.354a.5.5 0 0 1 0-.708z"/></svg>
<div class="t m" style="top:1654.81px;font-size:24px;line-height:24px;color:#757573;right:2530.50px;">60</div>
<svg class="b" style="left:1070px;top:1650.00px" width="250" height="54" viewBox="1070 1650.00 250 54" aria-hidden="true" shape-rendering="crispEdges"><path d="M1074 1655.0H1086V1699.0M1086 1687.0H1314M1187 1687.0V1699.0M1306 1687.0V1699.0" fill="none" stroke="#6e6e6c" stroke-width="2"/><rect x="1174" y="1656.0" width="6.3" height="32" fill="#f91561"/><rect x="1229" y="1656.0" width="6.3" height="32" fill="#f91561"/></svg>
<div class="t m" style="top:1654.81px;font-size:24px;line-height:24px;color:#ffffff;left:1326.00px;">~116</div>
<div class="t m" style="top:1654.81px;font-size:24px;line-height:24px;color:#f47c7c;left:1645.80px;">error</div>
<p class="t m" style="left:1876.4px;top:1649.71px;font-size:24px;line-height:36px;color:#fff"><span class="xm">×</span> {"code":13,"details":"failed to charge card: could not charge the card: rpc error: code = Unknown desc = The credit<br>card (ending &lt;*&gt; expired on 4/2025.","metadata":{"content-type":["application/grpc"]}}</p>
</article>
<article>
<svg class="b" style="left:966.00px;top:1757.00px;" width="24" height="24" viewBox="0 0 16 16" fill="#c1c2c5" aria-hidden="true"><path fill-rule="evenodd" d="M4.646 1.646a.5.5 0 0 1 .708 0l6 6a.5.5 0 0 1 0 .708l-6 6a.5.5 0 0 1-.708-.708L10.293 8 4.646 2.354a.5.5 0 0 1 0-.708z"/></svg>
<div class="t m" style="top:1758.81px;font-size:24px;line-height:24px;color:#757573;right:2530.50px;">60</div>
<svg class="b" style="left:1070px;top:1754.00px" width="250" height="54" viewBox="1070 1754.00 250 54" aria-hidden="true" shape-rendering="crispEdges"><path d="M1074 1759.0H1086V1803.0M1086 1791.0H1314M1187 1791.0V1803.0M1306 1791.0V1803.0" fill="none" stroke="#6e6e6c" stroke-width="2"/><rect x="1192" y="1760.0" width="6.3" height="32" fill="#f91561"/></svg>
<div class="t m" style="top:1758.81px;font-size:24px;line-height:24px;color:#ffffff;left:1326.00px;">~58</div>
<div class="t m" style="top:1758.81px;font-size:24px;line-height:24px;color:#f47c7c;left:1645.80px;">error</div>
<p class="t m" style="left:1876.4px;top:1753.71px;font-size:24px;line-height:36px;color:#fff">{"level":"error","span_id":"53060b827c62bb57","trace_flags":"01","trace_id":"56d859d006ef889c4970e27fc3f782f5"}</p>
</article>
</main>
<div class="b" style="left:0.00px;top:0.00px;width:3600.00px;height:1856.00px;border:2px solid #48494e;border-top:1px solid #3e3f45;border-radius:0 0 18px 18px;box-shadow:0 0 0 40px #000;background:transparent;pointer-events:none;"></div>
</body>
</html>
